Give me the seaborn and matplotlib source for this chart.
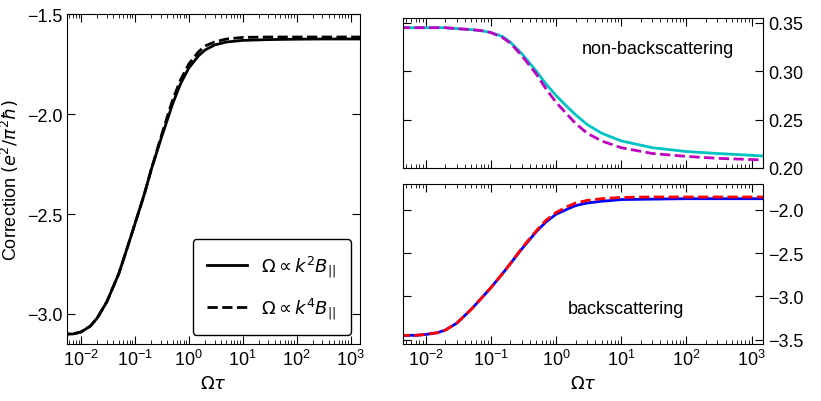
import numpy as np
import pandas as pd
import seaborn as sns
import matplotlib
matplotlib.use("Agg")
import matplotlib.pyplot as plt
from matplotlib.ticker import LogLocator, NullFormatter

plt.rcParams["font.family"] = "Liberation Sans"
plt.rcParams["mathtext.fontset"] = "dejavusans"
plt.rcParams["font.size"] = 13

x = [0.004, 0.007, 0.01, 0.015, 0.02, 0.03, 0.05, 0.07, 0.1, 0.15, 0.2, 0.3, 0.5, 0.7, 1, 1.5, 2, 3, 5, 10, 30, 100, 300, 2000]
left_k2 = [-3.10, -3.10, -3.09, -3.06, -3.02, -2.94, -2.80, -2.68, -2.55, -2.40, -2.28, -2.13, -1.95, -1.85, -1.77, -1.71, -1.68, -1.655, -1.64, -1.632, -1.628, -1.626, -1.625, -1.625]
left_k4 = [-3.10, -3.10, -3.09, -3.06, -3.02, -2.94, -2.80, -2.68, -2.55, -2.40, -2.28, -2.12, -1.93, -1.83, -1.75, -1.69, -1.66, -1.64, -1.625, -1.617, -1.615, -1.615, -1.615, -1.615]
nb_k2 = [0.345, 0.345, 0.345, 0.345, 0.345, 0.344, 0.343, 0.342, 0.340, 0.336, 0.330, 0.318, 0.300, 0.287, 0.275, 0.263, 0.255, 0.245, 0.236, 0.228, 0.221, 0.217, 0.215, 0.212]
nb_k4 = [0.345, 0.345, 0.345, 0.345, 0.345, 0.344, 0.343, 0.342, 0.340, 0.335, 0.329, 0.316, 0.297, 0.282, 0.268, 0.255, 0.246, 0.236, 0.228, 0.221, 0.215, 0.212, 0.210, 0.208]
bs_k2 = [-3.45, -3.45, -3.44, -3.42, -3.39, -3.31, -3.15, -3.03, -2.90, -2.74, -2.62, -2.45, -2.25, -2.14, -2.05, -1.99, -1.95, -1.92, -1.90, -1.88, -1.875, -1.87, -1.87, -1.87]
bs_k4 = [-3.45, -3.45, -3.44, -3.42, -3.39, -3.31, -3.15, -3.03, -2.90, -2.74, -2.62, -2.44, -2.24, -2.12, -2.03, -1.96, -1.92, -1.89, -1.87, -1.855, -1.85, -1.85, -1.85, -1.85]

fig = plt.figure(figsize=(8.21, 4.02), dpi=100)
W, H = 821, 402
def ax_at(l, t, r, b):
    return fig.add_axes([l / W, 1 - b / H, (r - l) / W, (b - t) / H])

axL = ax_at(67, 15, 360, 345)
axT = ax_at(403, 19, 763, 169)
axB = ax_at(403, 185, 763, 345)

def style(ax, xlim, right=False):
    ax.set_xscale("log")
    ax.set_xlim(*xlim)
    ax.xaxis.set_major_locator(LogLocator(base=10, numticks=20))
    ax.xaxis.set_minor_locator(LogLocator(base=10, subs=np.arange(2, 10), numticks=100))
    ax.xaxis.set_minor_formatter(NullFormatter())
    ax.tick_params(which="both", direction="in", top=True, right=True, labelsize=13)
    ax.tick_params(which="major", length=6)
    ax.tick_params(which="minor", length=3)
    if right:
        ax.yaxis.tick_right()
        ax.tick_params(which="both", left=True)
    ax.set_xlabel("")
    ax.set_ylabel("")

sns.lineplot(x=x, y=left_k2, ax=axL, color="black", lw=2, label=r"$\Omega \propto k^2 B_{||}$")
sns.lineplot(x=x, y=left_k4, ax=axL, color="black", lw=2, ls="--", label=r"$\Omega \propto k^4 B_{||}$")
style(axL, (0.0055, 1500))
axL.set_ylim(-3.15, -1.5)
axL.set_yticks([-3.0, -2.5, -2.0, -1.5])
axL.set_yticklabels(["\u22123.0", "\u22122.5", "\u22122.0", "\u22121.5"])
axL.set_xlabel(r"$\Omega\tau$")
axL.set_ylabel(r"Correction $(e^2/\pi^2\hbar)$")
axL.legend(loc="lower right", fontsize=13, handlelength=2.2, borderpad=0.8, labelspacing=0.9,
           framealpha=1, edgecolor="black", fancybox=True)

sns.lineplot(x=x, y=nb_k2, ax=axT, color="#00c4c4", lw=2)
sns.lineplot(x=x, y=nb_k4, ax=axT, color="#c000c0", lw=2, ls="--")
style(axT, (0.0045, 1500), right=True)
axT.set_ylim(0.20, 0.355)
axT.set_yticks([0.20, 0.25, 0.30, 0.35])
axT.set_yticklabels(["0.20", "0.25", "0.30", "0.35"])
axT.set_xticklabels([])
axT.text(0.92, 0.8, "non-backscattering", transform=axT.transAxes, ha="right", va="center", fontsize=13)

sns.lineplot(x=x, y=bs_k2, ax=axB, color="blue", lw=2)
sns.lineplot(x=x, y=bs_k4, ax=axB, color="red", lw=2, ls="--")
style(axB, (0.0045, 1500), right=True)
axB.set_ylim(-3.55, -1.7)
axB.set_yticks([-3.5, -3.0, -2.5, -2.0])
axB.set_yticklabels(["\u22123.5", "\u22123.0", "\u22122.5", "\u22122.0"])
axB.set_xlabel(r"$\Omega\tau$")
axB.text(0.62, 0.22, "backscattering", transform=axB.transAxes, ha="center", va="center", fontsize=13)

fig.savefig("out.png", dpi=100)
